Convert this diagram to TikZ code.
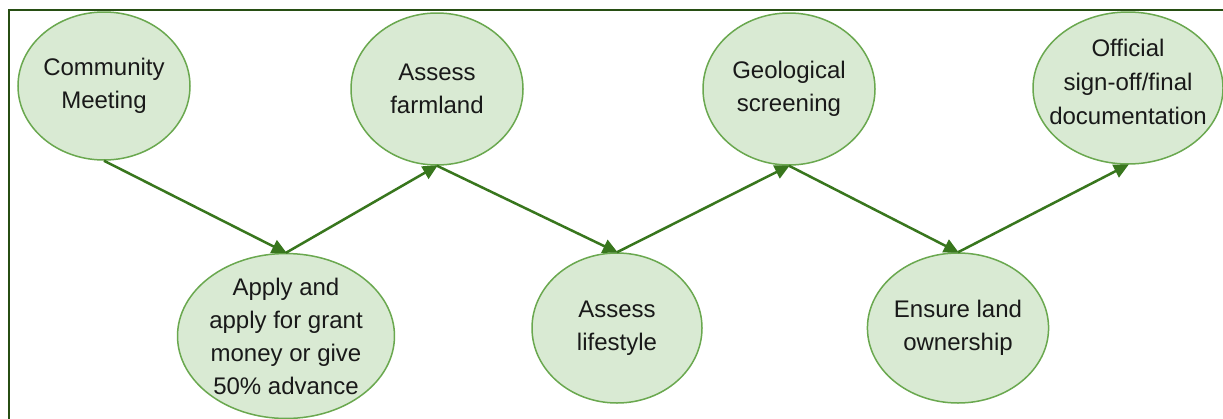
\documentclass[tikz,border=0pt]{standalone}
\usepackage{fontspec}
\setmainfont{Liberation Sans}
\usetikzlibrary{shapes.geometric,arrows.meta}
\definecolor{framegreen}{HTML}{274E13}
\definecolor{fillgreen}{HTML}{D9EAD3}
\definecolor{edgegreen}{HTML}{6AA84F}
\definecolor{arrowgreen}{HTML}{38761D}
\tikzset{
  stepnode/.style={ellipse, draw=edgegreen, line width=1.5pt, fill=fillgreen, inner sep=0pt,
    align=center, font=\fontsize{24}{33}\selectfont, text=black!90},
  steptext/.style={align=center, inner sep=0pt, font=\fontsize{24}{34}\selectfont, text=black!90},
  flow/.style={draw=arrowgreen, line width=2.5pt, -{Triangle[length=15pt,width=14pt]}, shorten >=-1pt}
}
\begin{document}
\begin{tikzpicture}[x=1pt,y=-1pt]
\useasboundingbox (0,0) rectangle (1223,418);
\clip (0,0) rectangle (1223,418);
\fill[white] (0,0) rectangle (1223,418);
\draw[framegreen, line width=2.5pt] (9,10) rectangle (1240,440);
\node[stepnode, minimum width=172pt, minimum height=148pt] (comm) at (104,86) {Community\\Meeting};
\node[stepnode, minimum width=172pt, minimum height=152pt] (farm) at (437,89) {Assess\\farmland};
\node[stepnode, minimum width=172pt, minimum height=152pt] (geo) at (789,89) {Geological\\screening};
\node[stepnode, minimum width=190pt, minimum height=152pt] (off) at (1128,88) {};
\node[steptext] (offtext) at (1128,82) {Official\\sign-off/final\\documentation};
\node[stepnode, minimum width=212pt, minimum height=152pt] (apply) at (286,336) {Apply and\\apply for grant\\money or give\\50\% advance};
\node[stepnode, minimum width=170pt, minimum height=150pt] (life) at (617,328) {Assess\\lifestyle};
\node[stepnode, minimum width=170pt, minimum height=150pt] (own) at (958,328) {Ensure land\\ownership};
\draw[flow] (comm.south) -- (apply.north);
\draw[flow] (apply.north) -- (farm.south);
\draw[flow] (farm.south) -- (life.north);
\draw[flow] (life.north) -- (geo.south);
\draw[flow] (geo.south) -- (own.north);
\draw[flow] (own.north) -- (off.south);
\end{tikzpicture}
\end{document}
